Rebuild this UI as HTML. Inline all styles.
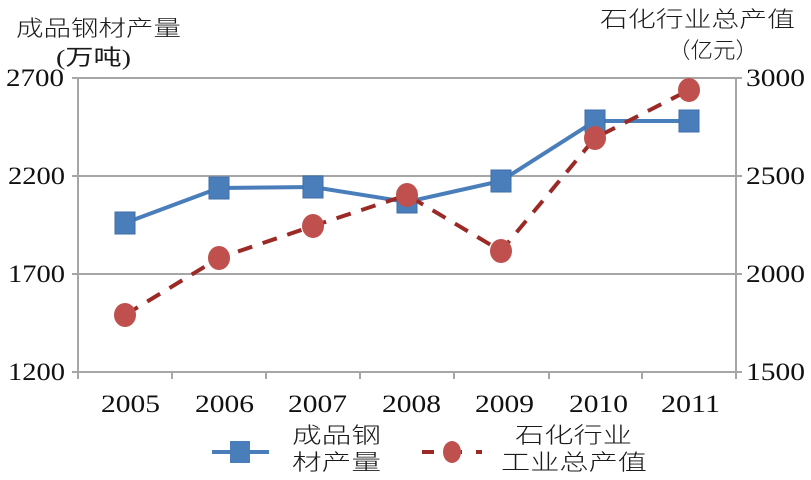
<!DOCTYPE html>
<html><head><meta charset="utf-8"><style>
html,body{margin:0;padding:0;background:#fff;}
svg{display:block;}
text{font-family:"Liberation Serif","Noto Serif CJK SC",serif;fill:#111;}
.cjk{font-family:"Noto Sans CJK SC","WenQuanYi Zen Hei",sans-serif;font-weight:300;fill:#1a1a1a;}
.par{font-family:"Liberation Serif","Noto Sans CJK SC",serif;fill:#1a1a1a;}
</style></head><body>
<svg width="811" height="480" viewBox="0 0 811 480" xmlns="http://www.w3.org/2000/svg">
<g stroke="#a6a6a6" stroke-width="2">
<line x1="78" y1="78" x2="736" y2="78"/>
<line x1="78" y1="176" x2="736" y2="176"/>
<line x1="78" y1="274" x2="736" y2="274"/>
<line x1="78" y1="372" x2="736" y2="372"/>
<line x1="78" y1="78" x2="78" y2="372"/>
<line x1="736" y1="78" x2="736" y2="372"/>
<line x1="736" y1="78" x2="742" y2="78"/>
<line x1="736" y1="176" x2="742" y2="176"/>
<line x1="736" y1="274" x2="742" y2="274"/>
<line x1="736" y1="372" x2="742" y2="372"/>
<line x1="72" y1="78" x2="78" y2="78"/>
<line x1="72" y1="176" x2="78" y2="176"/>
<line x1="72" y1="274" x2="78" y2="274"/>
<line x1="72" y1="372" x2="78" y2="372"/>
<line x1="172" y1="372" x2="172" y2="379"/>
<line x1="266" y1="372" x2="266" y2="379"/>
<line x1="360" y1="372" x2="360" y2="379"/>
<line x1="454" y1="372" x2="454" y2="379"/>
<line x1="549" y1="372" x2="549" y2="379"/>
<line x1="642" y1="372" x2="642" y2="379"/>
<line x1="78" y1="372" x2="78" y2="379"/>
<line x1="736" y1="372" x2="736" y2="379"/>
</g>
<g font-size="25">
<text x="6" y="86" textLength="58" lengthAdjust="spacingAndGlyphs">2700</text>
<text x="8" y="184" textLength="57" lengthAdjust="spacingAndGlyphs">2200</text>
<text x="8" y="282" textLength="57" lengthAdjust="spacingAndGlyphs">1700</text>
<text x="8" y="380" textLength="57" lengthAdjust="spacingAndGlyphs">1200</text>
<text x="746" y="86" textLength="59" lengthAdjust="spacingAndGlyphs">3000</text>
<text x="746" y="184" textLength="59" lengthAdjust="spacingAndGlyphs">2500</text>
<text x="746" y="282" textLength="59" lengthAdjust="spacingAndGlyphs">2000</text>
<text x="746" y="380" textLength="59" lengthAdjust="spacingAndGlyphs">1500</text>
</g>
<g font-size="25">
<text x="101" y="412" textLength="59" lengthAdjust="spacingAndGlyphs">2005</text>
<text x="195" y="412" textLength="59" lengthAdjust="spacingAndGlyphs">2006</text>
<text x="288" y="412" textLength="59" lengthAdjust="spacingAndGlyphs">2007</text>
<text x="382" y="412" textLength="59" lengthAdjust="spacingAndGlyphs">2008</text>
<text x="475" y="412" textLength="59" lengthAdjust="spacingAndGlyphs">2009</text>
<text x="569" y="412" textLength="59" lengthAdjust="spacingAndGlyphs">2010</text>
<text x="661" y="412" textLength="59" lengthAdjust="spacingAndGlyphs">2011</text>
</g>
<g font-size="22">
<text class="cjk" x="16" y="36" textLength="165" lengthAdjust="spacingAndGlyphs">成品钢材产量</text>
<text class="par" x="56" y="65" textLength="75" lengthAdjust="spacingAndGlyphs">(万吨)</text>
<text class="cjk" x="600" y="27" textLength="195" lengthAdjust="spacingAndGlyphs">石化行业总产值</text>
<text class="cjk" x="668" y="58" textLength="90" lengthAdjust="spacingAndGlyphs">（亿元）</text>
<text class="cjk" x="292" y="443" textLength="89" lengthAdjust="spacingAndGlyphs">成品钢</text>
<text class="cjk" x="292" y="470" textLength="89" lengthAdjust="spacingAndGlyphs">材产量</text>
<text class="cjk" x="515" y="443" textLength="117" lengthAdjust="spacingAndGlyphs">石化行业</text>
<text class="cjk" x="501" y="470" textLength="146" lengthAdjust="spacingAndGlyphs">工业总产值</text>
</g>
<polyline fill="none" stroke="#4a7ebb" stroke-width="4" points="125,223 219,188 313,187 407,202 501,181 595,121 689,121"/>
<g fill="#4a7ebb" stroke="#3c6ea8" stroke-width="1">
<rect x="115" y="212" width="20" height="22"/>
<rect x="209" y="177" width="20" height="22"/>
<rect x="303" y="176" width="20" height="22"/>
<rect x="397" y="191" width="20" height="22"/>
<rect x="491" y="170" width="20" height="22"/>
<rect x="585" y="110" width="20" height="22"/>
<rect x="679" y="110" width="20" height="22"/>
</g>
<polyline fill="none" stroke="#9b2a27" stroke-width="4" stroke-dasharray="15,11" points="125,315 219,258 313,226 407,195 501,251 595,138 689,90"/>
<g fill="#c0504d">
<ellipse cx="125" cy="315" rx="11" ry="12"/>
<ellipse cx="219" cy="258" rx="11" ry="12"/>
<ellipse cx="313" cy="226" rx="11" ry="12"/>
<ellipse cx="407" cy="195" rx="11" ry="12"/>
<ellipse cx="501" cy="251" rx="11" ry="12"/>
<ellipse cx="595" cy="138" rx="11" ry="12"/>
<ellipse cx="689" cy="90" rx="11" ry="12"/>
</g>
<line x1="212" y1="452" x2="269" y2="452" stroke="#4a7ebb" stroke-width="4"/>
<rect x="230" y="441" width="20" height="22" fill="#4a7ebb"/>
<line x1="422" y1="452" x2="482" y2="452" stroke="#9b2a27" stroke-width="4" stroke-dasharray="14,14" stroke-dashoffset="2"/>
<ellipse cx="452" cy="452" rx="9" ry="11" fill="#c0504d"/>
</svg>
</body></html>
